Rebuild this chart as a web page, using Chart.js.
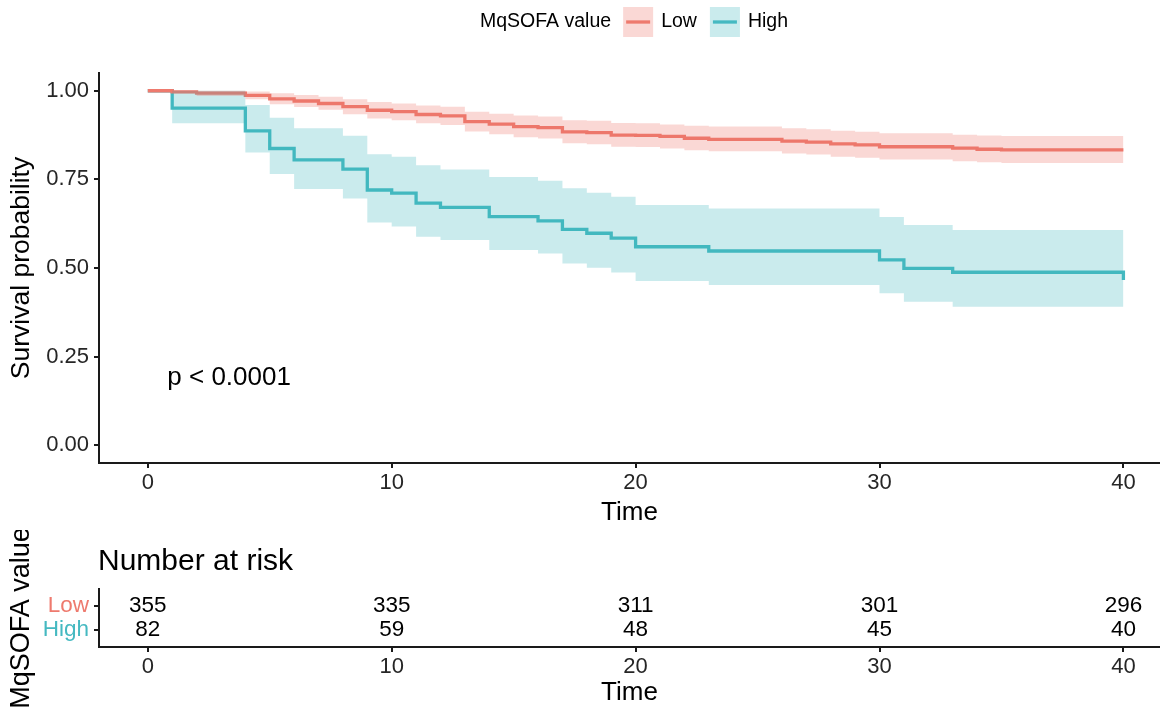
<!DOCTYPE html>
<html>
<head>
<meta charset="utf-8">
<title>Survival by MqSOFA value</title>
<script src="https://cdn.jsdelivr.net/npm/chart.js@4.4.1/dist/chart.umd.min.js"></script>
<style>
  html, body { margin: 0; padding: 0; background: #fff; overflow: hidden; }
  #wrap { position: relative; width: 1160px; height: 708px; }
  #survChart { position: absolute; left: 0; top: 0; }
  #riskChart { position: absolute; left: 0; top: 530px; }
</style>
</head>
<body>
<div id="wrap">
  <canvas id="survChart" width="1160" height="530"></canvas>
  <canvas id="riskChart" width="1160" height="178"></canvas>
</div>
<script>
// ---- data ----
const groups = ['Low', 'High'];
const legendTitle = 'MqSOFA value';
const pValueText = 'p < 0.0001';

// Low group: step times, survival, lower / upper 95% CI
const lowTime  = [0, 1, 2, 4, 5, 6, 7, 8, 9, 10, 11, 12, 13, 14, 15, 16, 17, 18, 19, 20, 21, 22, 23, 26, 27, 28, 29, 30, 33, 34, 35, 40];
const lowSurv  = [1, 0.997, 0.993, 0.987, 0.977, 0.971, 0.964, 0.955, 0.945, 0.941, 0.933, 0.929, 0.913, 0.906, 0.899, 0.896, 0.884, 0.882, 0.875, 0.874, 0.871, 0.866, 0.863, 0.858, 0.855, 0.850, 0.847, 0.842, 0.838, 0.835, 0.833, 0.833];
const lowLower = [1, 0.992, 0.985, 0.976, 0.962, 0.954, 0.946, 0.934, 0.922, 0.917, 0.908, 0.903, 0.885, 0.877, 0.869, 0.865, 0.852, 0.849, 0.842, 0.841, 0.837, 0.832, 0.829, 0.823, 0.820, 0.814, 0.811, 0.806, 0.801, 0.798, 0.796, 0.796];
const lowUpper = [1, 1, 1, 0.998, 0.993, 0.988, 0.983, 0.976, 0.968, 0.964, 0.958, 0.955, 0.941, 0.935, 0.930, 0.927, 0.917, 0.915, 0.909, 0.908, 0.905, 0.901, 0.899, 0.894, 0.891, 0.887, 0.884, 0.880, 0.876, 0.874, 0.872, 0.872];

// High group
const highTime  = [0, 1, 4, 5, 6, 8, 9, 10, 11, 12, 14, 16, 17, 18, 19, 20, 23, 30, 31, 33, 40];
const highSurv  = [1, 0.951, 0.887, 0.837, 0.805, 0.779, 0.720, 0.711, 0.683, 0.671, 0.645, 0.633, 0.609, 0.598, 0.584, 0.560, 0.548, 0.523, 0.499, 0.488, 0.466];
const highLower = [1, 0.908, 0.826, 0.765, 0.723, 0.696, 0.628, 0.617, 0.588, 0.579, 0.551, 0.541, 0.513, 0.501, 0.487, 0.463, 0.452, 0.429, 0.405, 0.391, 0.391];
const highUpper = [1, 1, 0.960, 0.924, 0.894, 0.873, 0.821, 0.814, 0.790, 0.778, 0.757, 0.746, 0.725, 0.712, 0.701, 0.678, 0.668, 0.644, 0.621, 0.607, 0.607];

// number at risk table
const riskTimes = [0, 10, 20, 30, 40];
const lowRisk  = [355, 335, 311, 301, 296];
const highRisk = [82, 59, 48, 45, 40];

const xTicks = [0, 10, 20, 30, 40];
const yTicks = [0, 0.25, 0.5, 0.75, 1];

// ---- styles ----
const lineColors = ['#EE7A6E', '#45B9C1'];
const bandColors = ['rgba(235,110,100,0.27)', 'rgba(60,180,190,0.27)'];
const axisColor = '#1a1a1a';
const tickColor = '#262626';

Chart.defaults.font.family = "'Liberation Sans', Arial, Helvetica, sans-serif";
Chart.defaults.animation = false;

function pts(xs, ys) {
  return xs.map((x, i) => ({ x: x, y: ys[i] }));
}

function lineDs(label, xs, ys, color) {
  return {
    label: label, data: pts(xs, ys), stepped: true, fill: false,
    borderColor: color, borderWidth: 3.3, pointRadius: 0, order: 2
  };
}

function bandDs(label, xs, ys, color, fill) {
  return {
    label: label, data: pts(xs, ys), stepped: true, fill: fill,
    borderColor: 'rgba(0,0,0,0)', borderWidth: 0, backgroundColor: color,
    pointRadius: 0, order: 1
  };
}

function xAxis(h, titlePad) {
  return {
    type: 'linear', min: -2, max: 41.5,
    afterBuildTicks: s => { s.ticks = xTicks.map(v => ({ value: v })); },
    afterFit: s => { s.height = h; },
    ticks: { color: tickColor, font: { size: 22 }, padding: 2, maxRotation: 0 },
    grid: { drawOnChartArea: false, drawTicks: true, tickLength: 5, color: axisColor, lineWidth: 2 },
    border: { display: true, color: axisColor, width: 2 },
    title: { display: true, text: 'Time', color: '#000', font: { size: 26 }, padding: { top: 0, bottom: titlePad } }
  };
}

// ---- survival curves ----
const decor = {
  id: 'decor',
  afterDraw(chart) {
    const ctx = chart.ctx;
    const xs = chart.scales.x, ys = chart.scales.y;
    ctx.save();
    // p value
    ctx.fillStyle = '#000';
    ctx.font = "26px 'Liberation Sans', Arial, sans-serif";
    ctx.textAlign = 'left';
    ctx.textBaseline = 'middle';
    ctx.fillText(pValueText, xs.getPixelForValue(0.8), ys.getPixelForValue(0.19));

    // legend on top
    const cy = 22;
    let x = 480;
    ctx.font = "19.5px 'Liberation Sans', Arial, sans-serif";
    ctx.fillText(legendTitle, x, cy);
    x += ctx.measureText(legendTitle).width + 12;
    groups.forEach((g, i) => {
      ctx.fillStyle = bandColors[i];
      ctx.fillRect(x, cy - 15, 30, 30);
      ctx.strokeStyle = lineColors[i];
      ctx.lineWidth = 3.3;
      ctx.beginPath();
      ctx.moveTo(x + 3, cy);
      ctx.lineTo(x + 27, cy);
      ctx.stroke();
      x += 38;
      ctx.fillStyle = '#000';
      ctx.fillText(g, x, cy);
      x += ctx.measureText(g).width + 13;
    });
    ctx.restore();
  }
};

new Chart(document.getElementById('survChart'), {
  type: 'line',
  data: {
    datasets: [
      lineDs('Low', lowTime, lowSurv, lineColors[0]),
      bandDs('Low upper', lowTime, lowUpper, bandColors[0], '+1'),
      bandDs('Low lower', lowTime, lowLower, bandColors[0], false),
      lineDs('High', highTime, highSurv, lineColors[1]),
      bandDs('High upper', highTime, highUpper, bandColors[1], '+1'),
      bandDs('High lower', highTime, highLower, bandColors[1], false)
    ]
  },
  options: {
    responsive: false,
    layout: { padding: { top: 73, right: 0, bottom: 0, left: 0 } },
    plugins: { legend: { display: false }, tooltip: { enabled: false } },
    scales: {
      x: xAxis(67, 2),
      y: {
        min: -0.05, max: 1.05,
        afterBuildTicks: s => { s.ticks = yTicks.map(v => ({ value: v })); },
        afterFit: s => { s.width = 99; },
        ticks: { color: tickColor, font: { size: 22 }, padding: 5, callback: v => Number(v).toFixed(2) },
        grid: { drawOnChartArea: false, drawTicks: true, tickLength: 5, color: axisColor, lineWidth: 2 },
        border: { display: true, color: axisColor, width: 2 },
        title: { display: true, text: 'Survival probability', color: '#000', font: { size: 26.5 }, padding: { top: 6, bottom: 0 } }
      }
    }
  },
  plugins: [decor]
});

// ---- number at risk table ----
const riskRows = [lowRisk, highRisk];
const rowPos = i => groups.length - 1 - i;

const riskText = {
  id: 'riskText',
  afterDraw(chart) {
    const ctx = chart.ctx;
    const xs = chart.scales.x, ys = chart.scales.y;
    ctx.save();
    ctx.fillStyle = '#000';
    ctx.font = "30px 'Liberation Sans', Arial, sans-serif";
    ctx.textAlign = 'left';
    ctx.textBaseline = 'alphabetic';
    ctx.fillText('Number at risk', chart.chartArea.left - 1, 40);
    ctx.font = "22.5px 'Liberation Sans', Arial, sans-serif";
    ctx.textAlign = 'center';
    ctx.textBaseline = 'middle';
    riskRows.forEach((row, i) => {
      row.forEach((n, j) => {
        ctx.fillText(String(n), xs.getPixelForValue(riskTimes[j]), ys.getPixelForValue(rowPos(i)));
      });
    });
    ctx.restore();
  }
};

new Chart(document.getElementById('riskChart'), {
  type: 'scatter',
  data: {
    datasets: groups.map((g, i) => ({
      label: g,
      data: riskTimes.map(t => ({ x: t, y: rowPos(i) })),
      pointRadius: 0
    }))
  },
  options: {
    responsive: false,
    layout: { padding: { top: 59, right: 0, bottom: 0, left: 0 } },
    plugins: { legend: { display: false }, tooltip: { enabled: false } },
    scales: {
      x: xAxis(61, 0),
      y: {
        type: 'linear', min: -0.71, max: 1.71,
        afterBuildTicks: s => { s.ticks = groups.map((g, i) => ({ value: rowPos(i) })); },
        afterFit: s => { s.width = 99; },
        ticks: {
          font: { size: 22.5 }, padding: 5,
          color: c => lineColors[groups.length - 1 - c.tick.value],
          callback: v => groups[groups.length - 1 - v]
        },
        grid: { drawOnChartArea: false, drawTicks: true, tickLength: 5, color: axisColor, lineWidth: 2 },
        border: { display: true, color: axisColor, width: 2 },
        title: { display: true, text: 'MqSOFA value', color: '#000', font: { size: 27 }, padding: { top: 5, bottom: 0 } }
      }
    }
  },
  plugins: [riskText]
});
</script>
</body>
</html>
